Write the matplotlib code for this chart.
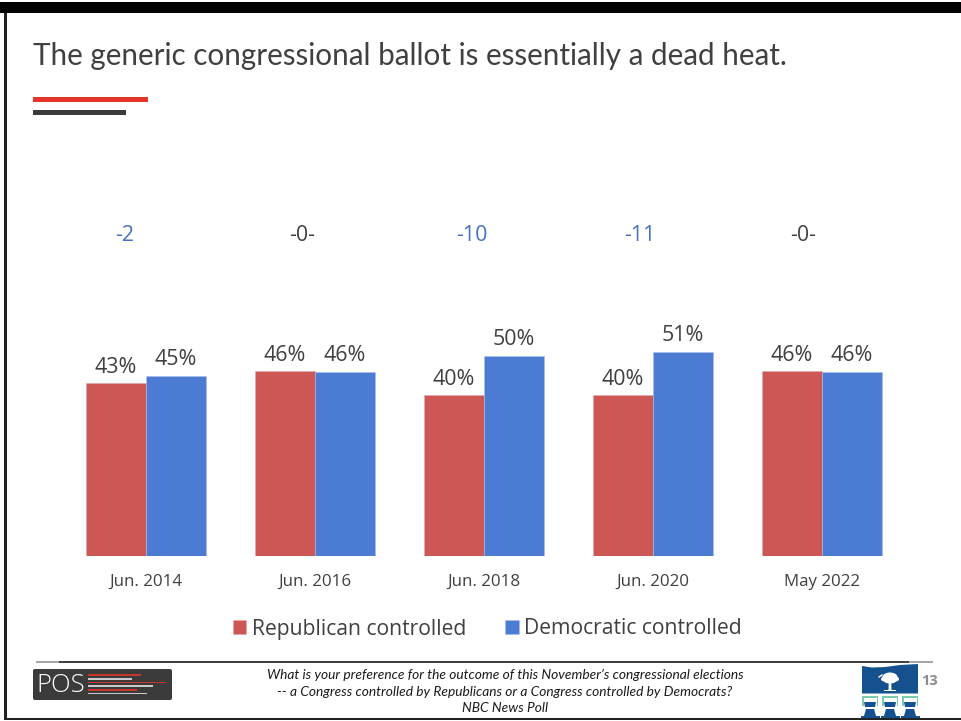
import numpy as np
import matplotlib
matplotlib.use("Agg")
import matplotlib.pyplot as plt
from matplotlib.patches import Rectangle, FancyBboxPatch, Polygon, Ellipse

plt.rcParams['font.family'] = ['Open Sans', 'DejaVu Sans']

# Data
periods = ["Jun. 2014", "Jun. 2016", "Jun. 2018", "Jun. 2020", "May 2022"]
republican = [43.2, 46.2, 40.2, 40.2, 46.2]
democratic = [45, 46, 50, 51, 46]
rep_labels = ["43%", "46%", "40%", "40%", "46%"]
dem_labels = ["45%", "46%", "50%", "51%", "46%"]
margins = ["-2", "-0-", "-10", "-11", "-0-"]
margin_colors = ["#4472C4", "#404040", "#4472C4", "#4472C4", "#404040"]
question = ["What is your preference for the outcome of this November\u2019s congressional elections",
            "-- a Congress controlled by Republicans or a Congress controlled by Democrats?",
            "NBC News Poll"]

RED = "#CD5755"
BLUE = "#4C7BD3"
GREY = "#404040"
NAVY = "#15518F"
W, H = 961, 721

# margin labels sit off-centre by hand on the slide
margin_shift = [-0.125, -0.074, -0.074, -0.077, -0.112]

fig = plt.figure(figsize=(W / 100, H / 100), dpi=100, facecolor="white")

# slide furniture, in pixel coordinates
bg = fig.add_axes([0, 0, 1, 1])
bg.set_xlim(0, W)
bg.set_ylim(H, 0)
bg.axis("off")


def box(x0, y0, x1, y1, color, ax=bg, **kw):
    ax.add_patch(Rectangle((x0, y0), x1 - x0, y1 - y0, facecolor=color, edgecolor="none", **kw))


# title and rules
bg.text(33, 56, "The generic congressional ballot is essentially a dead heat.",
        fontsize=21.35, color=GREY, va="center", ha="left", family=["Lato", "DejaVu Sans"])
box(33, 97, 148, 102, "#E5352B")
box(33, 110, 126, 115, "#3A3A3A")

# footer rule
box(36, 661, 59, 663, "#A6A6A6")
box(59, 661, 909, 663, "#404040")
box(909, 661, 933, 663, "#A6A6A6")

# POS logo
bg.add_patch(FancyBboxPatch((33, 669), 139, 31, boxstyle="round,pad=0,rounding_size=2",
                            facecolor="#3B3B3B", edgecolor="none"))
bg.text(36, 685, "POS", fontsize=18.5, color="white", va="center", ha="left", fontweight="light")
for y, x1, c in [(675, 141, "#C8362B"), (679, 132, "#C9C9C9"), (682.5, 166, "#C8362B"),
                 (686, 153, "#C9C9C9"), (690, 137, "#C8362B"), (693.5, 147, "#C9C9C9")]:
    box(88, y - 0.8, x1, y + 0.8, c)

# footer question
for y, line in zip([675, 692, 708], question):
    bg.text(505, y, line, fontsize=9.87, style="italic", color="#1A1A1A", ha="center", va="center",
            family=["Lato", "DejaVu Sans"])

# state house logo
bg.add_patch(Polygon([(862, 666), (872, 667.5), (885, 667), (900, 665), (918, 664), (918, 693.5), (862, 693.5)],
                     facecolor=NAVY, edgecolor="none"))
for cx, cy, ew, eh in [(890, 677, 15, 9), (884.5, 679, 7, 5), (895.5, 679, 7, 5), (890, 681, 12, 5)]:
    bg.add_patch(Ellipse((cx, cy), ew, eh, facecolor="white", edgecolor="none"))
bg.add_patch(Polygon([(888.8, 680), (891.2, 680), (891.5, 690), (888.5, 690)], facecolor="white", edgecolor="none"))
box(884, 690, 896, 691.2, "white")
bg.plot([879, 882], [677, 675], color="white", lw=1)
for x in [862, 882, 902]:
    box(x, 696, x + 16, 706, "#7CCBAE")
    box(x + 1.5, 698, x + 14.5, 706, "white")
    bg.add_patch(Polygon([(x + 2, 702), (x + 14, 702), (x + 13, 707), (x + 3, 707)],
                         facecolor=NAVY, edgecolor="none"))
    bg.add_patch(Polygon([(x + 4, 709), (x + 12, 709), (x + 14, 716), (x + 2, 716)],
                         facecolor=NAVY, edgecolor="none"))
    box(x - 1, 715.5, x + 18, 719, NAVY)
bg.text(929, 681, "13", fontsize=10.5, fontweight="bold", color="#8C8C8C", ha="center", va="center")

# slide border, over the logo foot
box(0, 2, W, 13, "black")
box(4, 13, 7, 720, "#222222")
box(7, 718, W, 720, "#222222")

# chart
ax = fig.add_axes([61.6 / W, 1 - 556 / H, 844.5 / W, 400 / H])
ax.patch.set_alpha(0)
x = np.arange(len(periods))
width = 60 / 169
ax.bar(x - width / 2, republican, width, color=RED, edgecolor="#E3A9A8", linewidth=0.4,
       label="Republican controlled")
ax.bar(x + width / 2, democratic, width, color=BLUE, edgecolor="#A9BFE8", linewidth=0.4,
       label="Democratic controlled")
ax.set_xlim(-0.5, len(periods) - 0.5)
ax.set_ylim(0, 100)
ax.set_yticks([])
ax.set_xticks(x, periods)
ax.tick_params(axis="x", length=0, pad=13, labelsize=12.2, labelcolor=GREY)
for s in ax.spines.values():
    s.set_visible(False)

for i in x:
    ax.text(i - width / 2, republican[i] + 1.4, rep_labels[i], ha="center", va="bottom",
            fontsize=15.4, color=GREY)
    ax.text(i + width / 2, democratic[i] + 1.4, dem_labels[i], ha="center", va="bottom",
            fontsize=15.4, color=GREY)
    ax.text(i + margin_shift[i], 80.2, margins[i], ha="center", va="center", fontsize=15.4,
            color=margin_colors[i])

ax.legend(loc="center", bbox_to_anchor=(426 / 844.5, -73 / 400), ncol=2, frameon=False,
          fontsize=15.2, labelcolor=GREY, handlelength=0.62, handleheight=0.62, handletextpad=0.28,
          columnspacing=1.85, borderpad=0)

fig.savefig("out.png", dpi=100)
